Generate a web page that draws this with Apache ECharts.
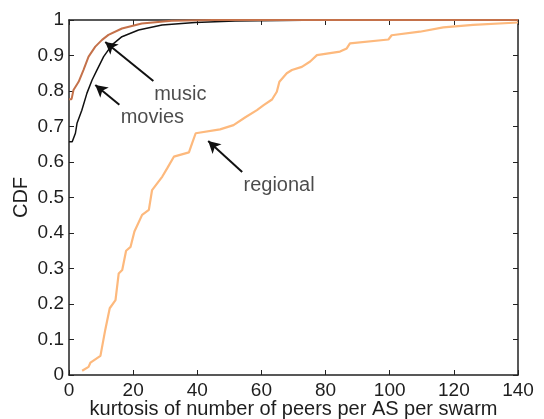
<!doctype html>
<html lang="en">
<head>
    <meta charset="UTF-8">
    <script src="https://cdn.jsdelivr.net/npm/echarts@6/dist/echarts.min.js"></script>
    <title>kurtosis CDF</title>
    <style>
        html, body { margin: 0; padding: 0; background: #fff; }
    </style>
</head>
<body>
<div id="main" style="width: 544px;height:419px;"></div>
<script>
    // CDF curves: [kurtosis, CDF]
    var regional = [
        [4.1, 0.012], [6.1, 0.023], [6.7, 0.035], [9.8, 0.054], [11.3, 0.127],
        [12.7, 0.188], [14.5, 0.211], [15.5, 0.286], [16.6, 0.296], [17.8, 0.35],
        [19.2, 0.361], [20.4, 0.404], [22.8, 0.451], [24.9, 0.465], [25.9, 0.521],
        [29.1, 0.559], [30.6, 0.582], [32.7, 0.615], [33.2, 0.62], [37.4, 0.627],
        [38.4, 0.653], [39.5, 0.681], [47.1, 0.692], [51.3, 0.704], [55, 0.726],
        [58.6, 0.746], [60.7, 0.76], [63.3, 0.776], [64.8, 0.798], [65.6, 0.826],
        [67.9, 0.85], [69.5, 0.859], [72.6, 0.868], [75.2, 0.883], [77.3, 0.901],
        [84.5, 0.911], [86.6, 0.92], [87.6, 0.934], [99.6, 0.945], [100.6, 0.957],
        [109.4, 0.967], [116.7, 0.979], [126, 0.986], [140, 0.993]
    ];
    var music = [
        [0, 0.777], [0.8, 0.777], [1.4, 0.803], [3.0, 0.826], [4.5, 0.859],
        [6.1, 0.897], [8.2, 0.925], [10.3, 0.944], [12.3, 0.958], [16.5, 0.976],
        [22.7, 0.99], [32, 0.998], [45, 1], [140, 1]
    ];
    var movies = [
        [0, 0.657], [1.0, 0.657], [2.0, 0.681], [2.5, 0.709], [4.0, 0.746],
        [5.6, 0.794], [7.2, 0.831], [8.7, 0.859], [10.8, 0.897], [13.4, 0.93],
        [16.5, 0.953], [21.7, 0.972], [29, 0.986], [39.3, 0.993], [51.8, 0.997],
        [80, 1], [140, 1]
    ];
    // annotation arrows: [from, to] and text anchors, in data units
    var arrows = [
        [[26.3, 0.828], [11.3, 0.938]],
        [[15.7, 0.761], [8.2, 0.817]],
        [[54, 0.572], [43.4, 0.659]]
    ];
    var notes = [
        {name: 'music', value: [34.7, 0.789]},
        {name: 'movies', value: [26, 0.724]},
        {name: 'regional', value: [65.5, 0.535]}
    ];

    var myChart = echarts.init(document.getElementById('main'));
    var font = 'Liberation Sans, Arial, sans-serif';
    var txt = '#1e1e1e';
    var tickStyle = {show: true, inside: true, length: 5, lineStyle: {color: '#222', width: 1}};
    var lineStyle = {color: '#222', width: 1.5};

    var option = {
        animation: false,
        grid: {left: 69, right: 26, top: 20, bottom: 44, outerBoundsMode: 'none', containLabel: false},
        xAxis: [
            {
                type: 'value', min: 0, max: 140, interval: 20,
                name: 'kurtosis of number of peers per AS per swarm',
                nameLocation: 'middle', nameGap: 24, nameMoveOverlap: false,
                nameTextStyle: {fontFamily: font, fontSize: 20, color: txt},
                axisLine: {show: true, onZero: false, lineStyle: lineStyle},
                axisTick: tickStyle,
                axisLabel: {fontFamily: font, fontSize: 19, color: txt, margin: 6},
                splitLine: {show: false}
            },
            {
                type: 'value', min: 0, max: 140, interval: 20, position: 'top',
                axisLine: {show: true, onZero: false, lineStyle: lineStyle},
                axisTick: tickStyle, axisLabel: {show: false}, splitLine: {show: false}
            }
        ],
        yAxis: [
            {
                type: 'value', min: 0, max: 1, interval: 0.1,
                name: 'CDF', nameLocation: 'middle', nameGap: 38, nameMoveOverlap: false,
                nameTextStyle: {fontFamily: font, fontSize: 20, color: txt},
                axisLine: {show: true, onZero: false, lineStyle: lineStyle},
                axisTick: tickStyle,
                axisLabel: {fontFamily: font, fontSize: 19, color: txt, margin: 5},
                splitLine: {show: false}
            },
            {
                type: 'value', min: 0, max: 1, interval: 0.1, position: 'right',
                axisLine: {show: true, onZero: false, lineStyle: lineStyle},
                axisTick: tickStyle, axisLabel: {show: false}, splitLine: {show: false}
            }
        ],
        series: [
            {
                name: 'regional', type: 'line', data: regional, showSymbol: false,
                lineStyle: {color: '#fdb97d', width: 2.2}
            },
            {
                name: 'movies', type: 'line', data: movies, showSymbol: false,
                lineStyle: {color: '#111', width: 1.5}
            },
            {
                name: 'music', type: 'line', data: music, showSymbol: false,
                lineStyle: {color: '#c4714a', width: 2},
                markLine: {
                    silent: true, symbol: ['none', 'arrow'], symbolSize: [10, 12],
                    lineStyle: {color: '#111', width: 2, type: 'solid'},
                    label: {show: false},
                    data: arrows.map(function (a) {
                        return [{coord: a[0]}, {coord: a[1]}];
                    })
                }
            },
            {
                name: 'notes', type: 'scatter', data: notes, symbolSize: 0,
                label: {
                    show: true, position: 'inside', formatter: '{b}',
                    fontFamily: font, fontSize: 20, color: txt
                }
            }
        ]
    };

    myChart.setOption(option);
</script>
</body>
</html>
